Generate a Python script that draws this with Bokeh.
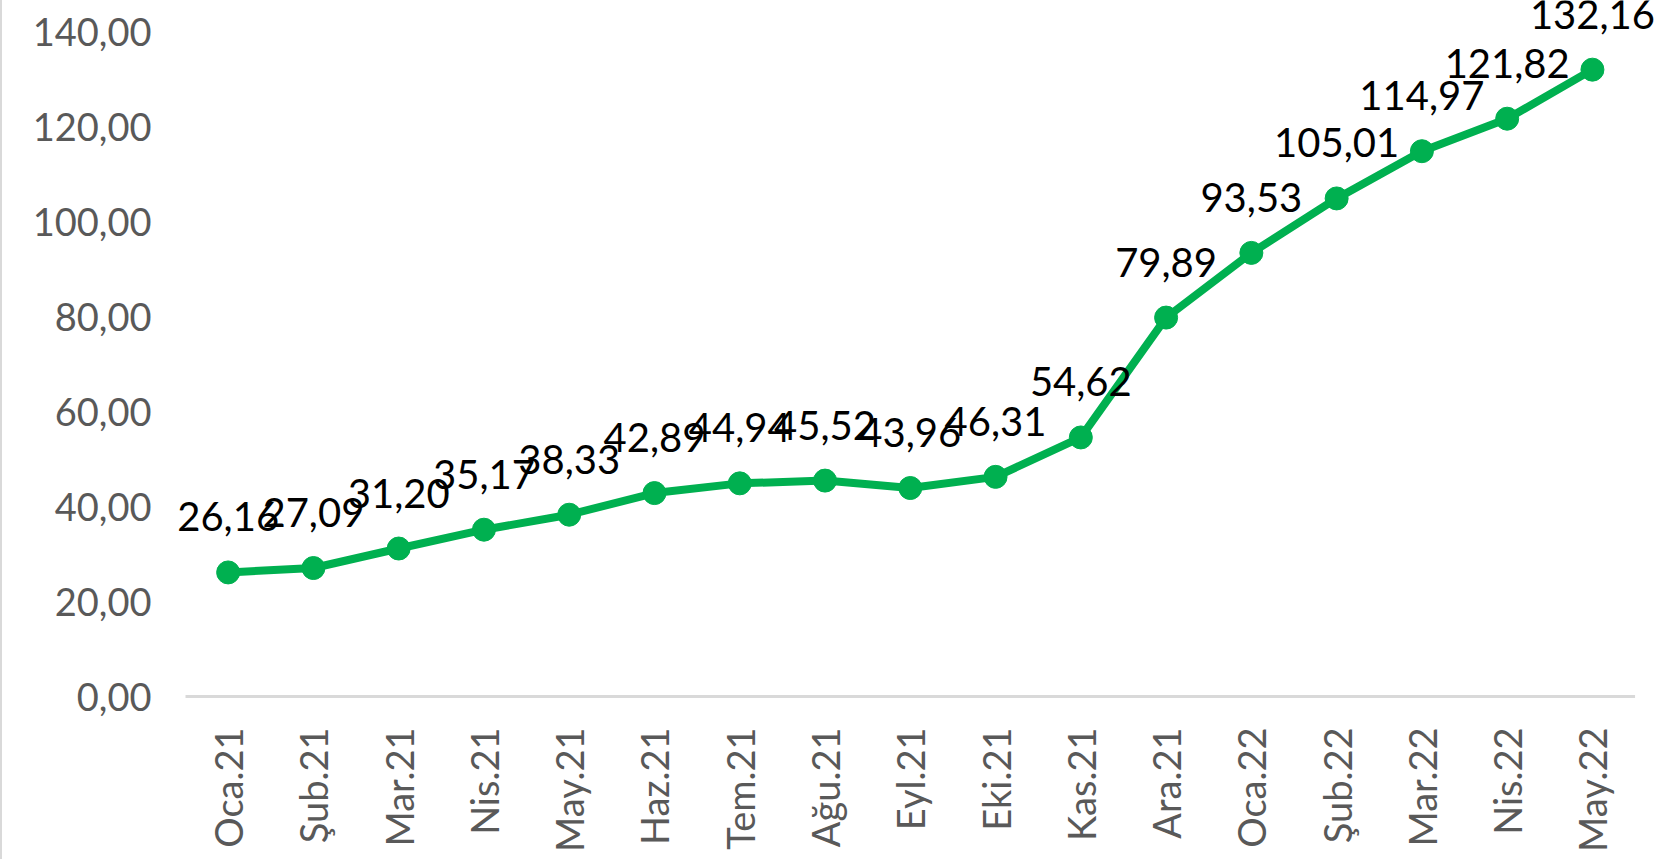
import math
from bokeh.plotting import figure
from bokeh.models import ColumnDataSource, LabelSet, Range1d, FixedTicker
from bokeh.embed import file_html
from bokeh.resources import INLINE
from bokeh.core.properties import value

months = ["Oca.21", "Şub.21", "Mar.21", "Nis.21", "May.21", "Haz.21", "Tem.21",
          "Ağu.21", "Eyl.21", "Eki.21", "Kas.21", "Ara.21", "Oca.22", "Şub.22",
          "Mar.22", "Nis.22", "May.22"]
values = [26.16, 27.09, 31.20, 35.17, 38.33, 42.89, 44.94, 45.52, 43.96, 46.31,
          54.62, 79.89, 93.53, 105.01, 114.97, 121.82, 132.16]
y_ticks = [0, 20, 40, 60, 80, 100, 120, 140]

def tr(v):
    return f"{v:.2f}".replace(".", ",")

xs = list(range(len(months)))
src = ColumnDataSource(dict(x=xs, y=values, label=[tr(v) for v in values]))

GREEN = "#00B050"
FONT = "Lato"

p = figure(width=1659, height=859,
           x_range=Range1d(-0.852, 16.81), y_range=Range1d(-0.42, 146.74),
           output_backend="svg", toolbar_location=None, title=None,
           min_border_left=153, min_border_right=0,
           min_border_top=0, min_border_bottom=161)
p.styles = {"border-left": "2px solid #D9D9D9"}
p.outline_line_color = None
p.xgrid.grid_line_color = None
p.ygrid.grid_line_color = None
p.background_fill_color = "white"
p.border_fill_color = "white"

# category baseline (axis line) spanning the category band only
p.segment(x0=[xs[0] - 0.5], y0=[0], x1=[xs[-1] + 0.5], y1=[0],
          line_color="#D9D9D9", line_width=3)

p.line("x", "y", source=src, line_color=GREEN, line_width=8, line_join="round")
p.scatter("x", "y", source=src, size=23, fill_color=GREEN, line_color=GREEN)

labels = LabelSet(x="x", y="y", text="label", source=src, text_align="center",
                  text_baseline="alphabetic", y_offset=41,
                  text_font=value(FONT), text_font_size=value("40px"),
                  text_color="#000000")
p.add_layout(labels)

# y axis
p.yaxis.ticker = FixedTicker(ticks=y_ticks)
p.yaxis.major_label_overrides = {t: tr(t) for t in y_ticks}
p.yaxis.axis_line_color = None
p.yaxis.major_tick_line_color = None
p.yaxis.minor_tick_line_color = None
p.yaxis.major_tick_out = 0
p.yaxis.major_tick_in = 0
p.yaxis.major_label_standoff = 4
p.yaxis.major_label_text_font = FONT
p.yaxis.major_label_text_font_size = "38px"
p.yaxis.major_label_text_color = "#595959"

# x axis
p.xaxis.ticker = FixedTicker(ticks=xs)
p.xaxis.major_label_overrides = {i: m for i, m in zip(xs, months)}
p.xaxis.axis_line_color = None
p.xaxis.major_tick_line_color = None
p.xaxis.minor_tick_line_color = None
p.xaxis.major_tick_out = 0
p.xaxis.major_tick_in = 0
p.xaxis.major_label_standoff = 29
p.xaxis.major_label_orientation = math.pi / 2
p.xaxis.major_label_text_font = FONT
p.xaxis.major_label_text_font_size = "38px"
p.xaxis.major_label_text_color = "#595959"

open("out.html", "w").write(file_html(p, INLINE))
